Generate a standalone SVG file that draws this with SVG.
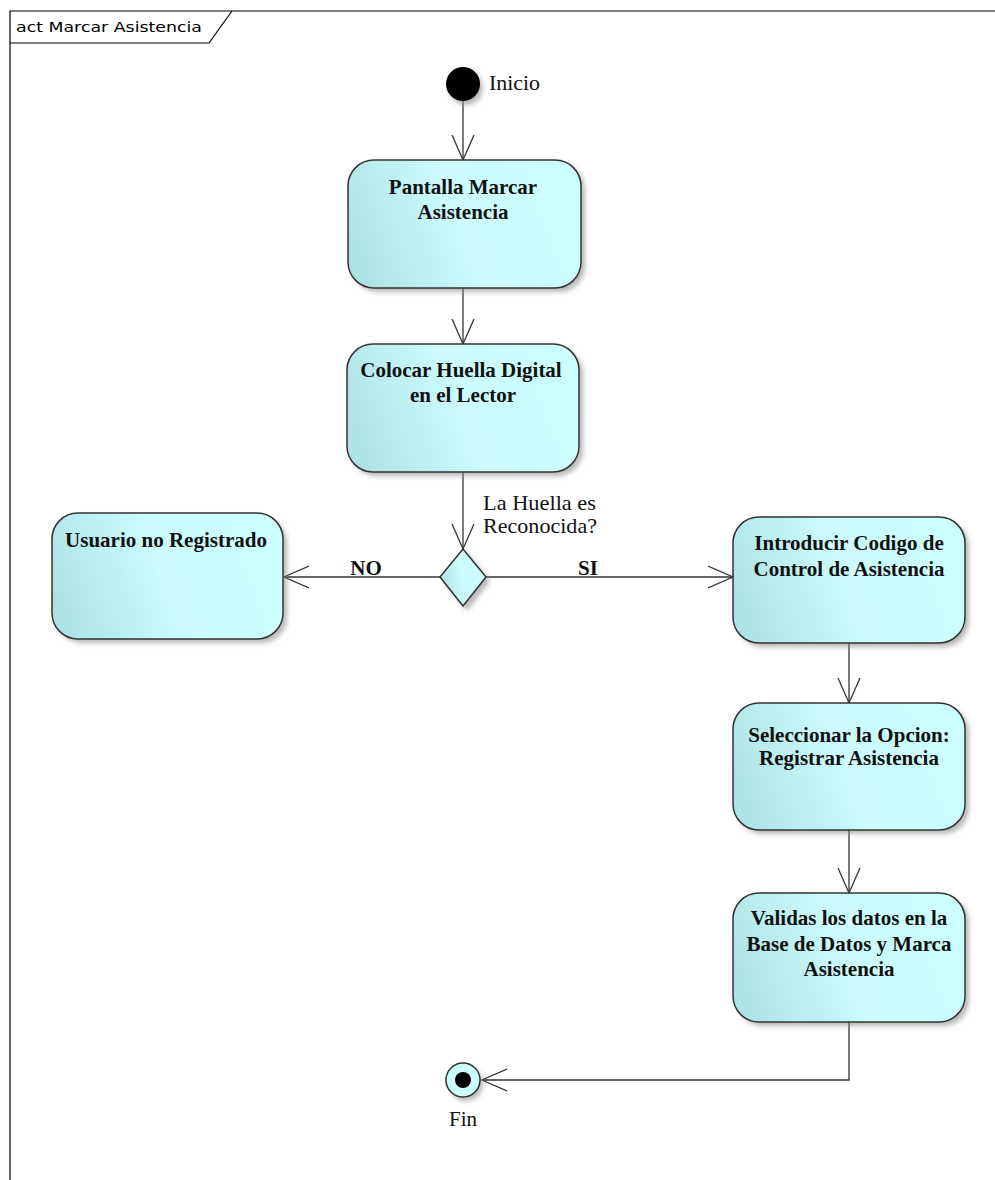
<svg xmlns="http://www.w3.org/2000/svg" width="995" height="1180" viewBox="0 0 995 1180">
<defs>
<linearGradient id="g" x1="0" y1="0.6" x2="1" y2="0.4">
<stop offset="0" stop-color="#aee3e6"/>
<stop offset="0.5" stop-color="#ccfcfd"/>
<stop offset="1" stop-color="#ccffff"/>
</linearGradient>
<filter id="sh" x="-20%" y="-20%" width="140%" height="140%">
<feGaussianBlur stdDeviation="2.5"/>
</filter>
<marker id="arr" markerUnits="userSpaceOnUse" markerWidth="28" markerHeight="26" refX="25" refY="12" orient="auto">
<path d="M0,1 L25,12 L0,23" fill="none" stroke="#333" stroke-width="1.3"/>
</marker>
</defs>
<style>
.box{fill:url(#g);stroke:#333;stroke-width:1.5}
.shd{fill:#888;opacity:0.6;filter:url(#sh)}
.t{font-family:"Liberation Serif","Times New Roman",serif;font-size:21px;font-weight:bold;fill:#111;text-anchor:middle}
.lbl{font-family:"Liberation Serif","Times New Roman",serif;font-size:21px;fill:#111}
.c{fill:none;stroke:#333;stroke-width:1.3}
</style>
<rect width="995" height="1180" fill="#fff"/>
<g id="frame">
<path d="M10,1180 L10,11 L995,11" fill="none" stroke="#000" stroke-width="1.2"/>
<path d="M10,43 L209,43 L232,11" fill="none" stroke="#000" stroke-width="1.2"/>
<text x="16" y="32" font-family="DejaVu Sans, sans-serif" font-size="14.5" textLength="186" lengthAdjust="spacingAndGlyphs" fill="#000">act Marcar Asistencia</text>
</g>
<g id="connectors">
<path class="c" d="M463,101 L463,160" marker-end="url(#arr)"/>
<path class="c" d="M463,288 L463,344" marker-end="url(#arr)"/>
<path class="c" d="M463,472 L463,549" marker-end="url(#arr)"/>
<path class="c" d="M440,577 L284,577" marker-end="url(#arr)"/>
<path class="c" d="M486,577 L733,577" marker-end="url(#arr)"/>
<path class="c" d="M849,643 L849,703" marker-end="url(#arr)"/>
<path class="c" d="M849,830 L849,893" marker-end="url(#arr)"/>
<path class="c" d="M849,1022 L849,1080 L482,1080" marker-end="url(#arr)"/>
<text class="lbl" x="483" y="510" textLength="113" lengthAdjust="spacingAndGlyphs">La Huella es</text>
<text class="lbl" x="483" y="533" textLength="114" lengthAdjust="spacingAndGlyphs">Reconocida?</text>
<text class="t" x="366" y="575">NO</text>
<text class="t" x="588" y="575">SI</text>
</g>
<g id="inicio">
<circle cx="466" cy="88" r="17" class="shd"/>
<circle cx="463" cy="84" r="17" fill="#000"/>
<text class="lbl" x="489" y="90" textLength="51" lengthAdjust="spacingAndGlyphs">Inicio</text>
</g>
<g id="pantalla">
<rect class="shd" x="352" y="164" width="233" height="128" rx="26"/>
<rect class="box" x="348" y="160" width="233" height="128" rx="26"/>
<text class="t" x="463" y="194">Pantalla Marcar</text>
<text class="t" x="463" y="219">Asistencia</text>
</g>
<g id="colocar">
<rect class="shd" x="351" y="348" width="232" height="128" rx="26"/>
<rect class="box" x="347" y="344" width="232" height="128" rx="26"/>
<text class="t" x="461" y="377">Colocar Huella Digital</text>
<text class="t" x="463" y="402">en el Lector</text>
</g>
<g id="decision">
<polygon points="467,553 490,581 467,611 444,581" class="shd"/>
<polygon points="463,549 486,577 463,606 440,577" class="box"/>
</g>
<g id="usuario">
<rect class="shd" x="56" y="517" width="231" height="126" rx="26"/>
<rect class="box" x="52" y="513" width="231" height="126" rx="26"/>
<text class="t" x="166" y="547">Usuario no Registrado</text>
</g>
<g id="introducir">
<rect class="shd" x="737" y="521" width="232" height="126" rx="26"/>
<rect class="box" x="733" y="517" width="232" height="126" rx="26"/>
<text class="t" x="849" y="550">Introducir Codigo de</text>
<text class="t" x="849" y="576">Control de Asistencia</text>
</g>
<g id="seleccionar">
<rect class="shd" x="737" y="707" width="232" height="127" rx="26"/>
<rect class="box" x="733" y="703" width="232" height="127" rx="26"/>
<text class="t" x="849" y="742">Seleccionar la Opcion:</text>
<text class="t" x="849" y="765">Registrar Asistencia</text>
</g>
<g id="validas">
<rect class="shd" x="737" y="897" width="232" height="129" rx="26"/>
<rect class="box" x="733" y="893" width="232" height="129" rx="26"/>
<text class="t" x="849" y="925">Validas los datos en la</text>
<text class="t" x="849" y="951">Base de Datos y Marca</text>
<text class="t" x="849" y="976">Asistencia</text>
</g>
<g id="fin">
<circle cx="466" cy="1084" r="17" class="shd"/>
<circle cx="463" cy="1080" r="17" fill="#ccffff" stroke="#333" stroke-width="1.5"/>
<circle cx="463" cy="1080" r="8" fill="#000"/>
<text class="lbl" x="463" y="1126" text-anchor="middle">Fin</text>
</g>
</svg>
